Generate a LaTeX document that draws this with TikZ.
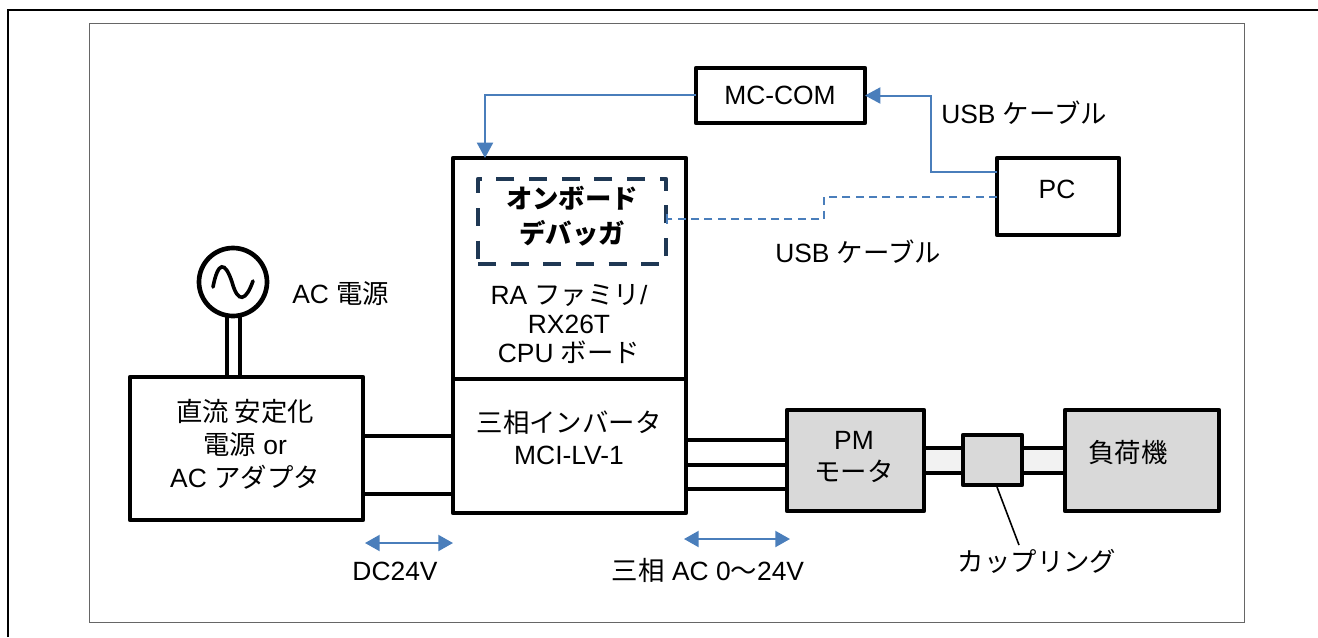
\documentclass[tikz,border=0pt]{standalone}
\usepackage{fontspec}
\usetikzlibrary{arrows.meta}
\setmainfont{Liberation Sans}
\newfontfamily\jp{Noto Sans CJK JP}
\definecolor{bluel}{RGB}{74,126,187}
\definecolor{navy}{RGB}{31,56,84}
\definecolor{gfill}{RGB}{217,217,217}
\definecolor{shaft}{RGB}{242,242,242}
\tikzset{
 x=0.75pt,y=-0.75pt,
 box/.style={draw=black,line width=3.5pt,line join=round,fill=white,inner sep=0pt,outer sep=0pt},
 gbox/.style={box,fill=gfill},
 lbl/.style={inner sep=0pt,align=center,font=\fontsize{19.8}{24}\selectfont},
 wire/.style={draw=black,line width=2.4pt},
 wirethick/.style={draw=black,line width=3.3pt},
 blueline/.style={draw=bluel,line width=1.5pt,line join=miter},
 bluedash/.style={blueline,dash pattern=on 6pt off 4pt},
 tip/.style={-{Triangle[length=11.5pt,width=12pt]}},
 tips/.style={{Triangle[length=11pt,width=12pt]}-{Triangle[length=11pt,width=12pt]}},
}
\newcommand{\pbox}[6]{\node[#6,minimum width={(#4-#2)*0.75pt},minimum height={(#5-#3)*0.75pt}] (#1) at ({(#2+#4)/2},{(#3+#5)/2}) {};}
\begin{document}
\begin{tikzpicture}
\useasboundingbox (0,0) rectangle (1318,637);
\fill[white] (0,0) rectangle (1318,637);
\coordinate (o1) at (8,637); \coordinate (o2) at (8,10); \coordinate (o3) at (1318,10);
\draw[black,line width=1.5pt] (o1) -- (o2) -- (o3);
\coordinate (f1) at (89,23); \coordinate (f2) at (1244,622);
\draw[black!60,line width=0.75pt] (f1) rectangle (f2);

% AC source
\node[box,circle,minimum size={68*0.75pt}] (ac) at (233,282) {};
\draw[black,line width=2.7pt,line cap=round] (213,287) .. controls (218,261) and (225,261) .. (232,282) .. controls (238,304) and (246,301) .. (253,281);
\coordinate (sa) at (227,380); \coordinate (sb) at (240,380);
\draw[wire] (ac.south -| sa) -- (sa);
\draw[wire] (ac.south -| sb) -- (sb);

% shaft behind coupling
\pbox{shaft1}{920}{448}{1070}{473}{box,fill=shaft}

\pbox{psu}{130}{377}{363}{520}{box}
\pbox{cpu}{453}{158}{686}{379}{box}
\pbox{inv}{453}{379}{686}{513}{box}
\pbox{mc}{696}{68}{865}{123}{box}
\pbox{pc}{997}{158}{1119}{235}{box}
\pbox{motor}{787}{410}{924}{511}{gbox}
\pbox{load}{1065}{410}{1219}{511}{gbox}
\pbox{coup}{963}{435}{1022}{485}{gbox}
\pbox{dbg}{478}{179}{666}{264}{box,draw=navy,line width=3.3pt,dash pattern=on 13.5pt off 11pt,fill=none}

% wires
\coordinate (pa) at (363,436); \coordinate (qa) at (453,436);
\coordinate (pb) at (363,494); \coordinate (qb) at (453,494);
\draw[wire] (pa) -- (qa);
\draw[wire] (pb) -- (qb);
\coordinate (ra) at (686,440); \coordinate (sa2) at (787,440);
\coordinate (rb) at (686,465); \coordinate (sb2) at (787,465);
\coordinate (rc) at (686,489); \coordinate (sc2) at (787,489);
\draw[wire] (ra) -- (sa2);
\draw[wirethick] (rb) -- (sb2);
\draw[wire] (rc) -- (sc2);

% blue connectors
\coordinate (m1) at (485,95);
\coordinate (pcA) at (997,172); \coordinate (m2) at (931,172);
\coordinate (pcB) at (997,197); \coordinate (m3) at (824,197); \coordinate (m4) at (824,219); \coordinate (dbgE) at (666,219);
\draw[blueline,tip] (mc.west |- m1) -- (m1) -- (m1 |- cpu.north);
\draw[blueline,tip] (pcA) -- (m2) -- (m2 |- mc.east) -- (mc.east);
\draw[bluedash,-{Bar[width=7pt,length=0.8pt]}] (pcB) -- (m3) -- (m4) -- (dbgE);

% dimension arrows
\coordinate (d1) at (365,543); \coordinate (d2) at (453,543);
\draw[blueline,tips] (d1) -- (d2);
\coordinate (d3) at (684,539); \coordinate (d4) at (790,539);
\draw[blueline,tips] (d3) -- (d4);

% leader
\coordinate (lead) at (1019,545);
\draw[black,line width=1.2pt] (997,487) -- (lead);

% labels
\node[lbl] (tmc) at (780,95) {MC-COM};
\node[lbl] (tpc) at (1057,189) {PC};
\node[lbl,anchor=west] (tu1) at (941,113) {USB {\jp ケーブル}};
\node[lbl,anchor=west] (tu2) at (775,252) {USB {\jp ケーブル}};
\node[lbl,anchor=west] (tac) at (292,294) {AC {\jp 電源}};
\node[lbl,font=\fontsize{19.8}{24.75}\selectfont] (tpsu) at (245,444) {{\jp 直流 安定化}\\{\jp 電源} or\\AC {\jp アダプタ}};
\node[lbl,font=\fontsize{19.8}{26.25}\bfseries\jp\selectfont] (tdbg) at (572,216) {オンボード\\デバッガ};
\node[lbl,font=\fontsize{19.8}{21.75}\selectfont] (tcpu) at (569,324) {RA {\jp ファミリ}/\\RX26T\\CPU {\jp ボード}};
\node[lbl,font=\fontsize{19.8}{24}\selectfont] (tinv) at (569,438) {{\jp 三相インバータ}\\MCI-LV-1};
\node[lbl,font=\fontsize{19.8}{24}\selectfont] (tmot) at (854,457) {PM\\{\jp モータ}};
\node[lbl,anchor=west] (tload) at (1088,453) {{\jp 負荷機}};
\node[lbl] (tdc) at (395,571) {DC24V};
\node[lbl] (t3ac) at (708,570) {{\jp 三相} AC 0{\jp 〜}24V};
\node[lbl] (tcp) at (1037,561) {{\jp カップリング}};
\end{tikzpicture}
\end{document}
